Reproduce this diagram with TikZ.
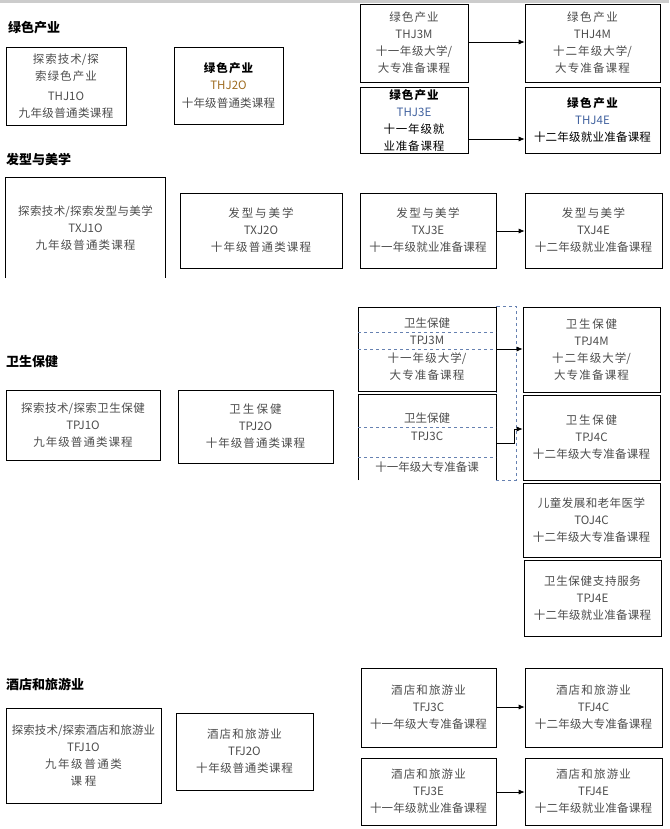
\documentclass[tikz,border=0pt]{standalone}
\usepackage{fontspec}
\setmainfont{Noto Sans CJK SC}
\XeTeXlinebreaklocale "zh"
\XeTeXlinebreakskip=0pt plus 1pt
\usetikzlibrary{arrows.meta}
\definecolor{tg}{gray}{0.3}
\definecolor{cA}{rgb}{0.62,0.42,0.12}
\definecolor{cB}{rgb}{0.25,0.38,0.62}
\tikzset{
  bx/.style={draw=black, line width=0.7pt, align=center, inner sep=2pt, text=tg, font=\fontsize{11.5}{17}\selectfont},
  ob/.style={draw=none, align=center, inner sep=2pt, text=tg, font=\fontsize{11.5}{17}\selectfont},
  ttl/.style={anchor=west, font=\fontsize{13}{15}\selectfont\bfseries, inner sep=0pt},
  arr/.style={-{Latex[length=6pt,width=5pt]}, line width=0.7pt},
  dl/.style={draw=cB!80, dashed, line width=0.5pt}
}
\newcommand\bx[7][bx]{\pgfmathsetmacro\bw{#5-#3-8}\node[#1, minimum width={(#5-#3)*1pt}, minimum height={(#6-#4)*1pt}, text width=\bw pt] (#2) at ({(#3+#5)/2},{(#4+#6)/2}) {#7};}
\begin{document}
\begin{tikzpicture}[x=1pt,y=-1pt]
\useasboundingbox (0,0) rectangle (669,829);
\fill[gray!40] (0,0) rectangle (669,3);
% green
\node[ttl] (t1) at (8,28) {绿色产业};
\bx{a1}{6}{47}{126}{125}{探索技术/探索绿色产业\\[3pt]THJ1O\\九年级普通类课程}
\bx{a2}{174}{47}{283}{124}{\textcolor{black}{\bfseries 绿色产业}\\\textcolor{cA}{THJ2O}\\十年级普通类课程}
\bx{a3}{360}{4}{468}{82}{绿色产业\\THJ3M\\十一年级大学/大专准备课程}
\bx{a4}{525}{4}{660}{82}{绿色产业\\THJ4M\\十二年级大学/大专准备课程}
\bx{a5}{360}{87}{468}{153}{\textcolor{black}{\bfseries 绿色产业}\\\textcolor{cB}{THJ3E}\\\textcolor{black}{十一年级就业准备课程}}
\bx{a6}{525}{87}{660}{153}{\textcolor{black}{\bfseries 绿色产业}\\\textcolor{cB}{THJ4E}\\\textcolor{black}{十二年级就业准备课程}}
\draw[arr] (a3.east|-0,42) -- (a4.west|-0,42);
\draw[arr] (a5.east|-0,139) -- (a6.west|-0,139);
% hair
\node[ttl] (t2) at (6,160) {发型与美学};
\bx[ob]{b1}{6}{178}{165}{278}{探索技术/探索发型与美学\\TXJ1O\\九年级普通类课程}
\draw[line width=0.7pt] (b1.south west) -- (b1.north west) -- (b1.north east) -- (b1.south east);
\bx{b2}{180}{193}{342}{268}{发型与美学\\TXJ2O\\十年级普通类课程}
\bx{b3}{360}{193}{496}{268}{发型与美学\\TXJ3E\\十一年级就业准备课程}
\bx{b4}{525}{193}{662}{268}{发型与美学\\TXJ4E\\十二年级就业准备课程}
\draw[arr] (b3.east|-0,231) -- (b4.west|-0,231);
% health
\node[ttl] (t3) at (6,362) {卫生保健};
\bx{c1}{6}{390}{160}{460}{探索技术/探索卫生保健\\TPJ1O\\九年级普通类课程}
\bx{c2}{178}{390}{333}{463}{卫生保健\\TPJ2O\\十年级普通类课程}
\draw[dl] (496,306) rectangle (516,480);
\draw[line width=0.7pt] (358,307) rectangle (496,391);
\node[ob] (c3) at (427,323) {卫生保健};
\node[ob] (c3b) at (427,340) {TPJ3M};
\node[ob, text width=128pt] (c3c) at (427,367) {十一年级大学/大专准备课程};
\draw[dl] (358,332) -- (496,332) (358,349) -- (496,349);
\draw[line width=0.7pt] (358,480) -- (358,394) -- (496,394) -- (496,480);
\node[ob] (c4) at (427,418) {卫生保健};
\node[ob] (c4b) at (427,436) {TPJ3C};
\node[ob] (c4c) at (427,467) {十一年级大专准备课};
\draw[dl] (358,427) -- (496,427) (358,457) -- (496,457);
\bx{c5}{523}{307}{660}{392}{卫生保健\\TPJ4M\\十二年级大学/大专准备课程}
\bx{c6}{523}{395}{660}{480}{卫生保健\\TPJ4C\\十二年级大专准备课程}
\bx{c7}{523}{483}{660}{557}{儿童发展和老年医学\\TOJ4C\\十二年级大专准备课程}
\bx{c8}{524}{560}{661}{636}{卫生保健支持服务\\TPJ4E\\十二年级就业准备课程}
\coordinate (j1) at (496,349);
\coordinate (j2) at (496,443);
\draw[arr] (j1) -- (c5.west|-j1);
\draw[arr] (j2) -- (514,443) |- (c6.west|-0,429);
% hotel
\node[ttl] (t4) at (6,684) {酒店和旅游业};
\bx{d1}{6}{708}{161}{803}{探索技术/探索酒店和旅游业\\TFJ1O\\九年级普通类\\课程}
\bx{d2}{176}{713}{313}{790}{酒店和旅游业\\TFJ2O\\十年级普通类课程}
\bx{d3}{361}{668}{496}{747}{酒店和旅游业\\TFJ3C\\十一年级大专准备课程}
\bx{d4}{525}{668}{662}{747}{酒店和旅游业\\TFJ4C\\十二年级大专准备课程}
\bx{d5}{361}{758}{496}{825}{酒店和旅游业\\TFJ3E\\十一年级就业准备课程}
\bx{d6}{525}{758}{662}{825}{酒店和旅游业\\TFJ4E\\十二年级就业准备课程}
\draw[arr] (d3.east|-0,707) -- (d4.west|-0,707);
\draw[arr] (d5.east|-0,792) -- (d6.west|-0,792);
\end{tikzpicture}
\end{document}
